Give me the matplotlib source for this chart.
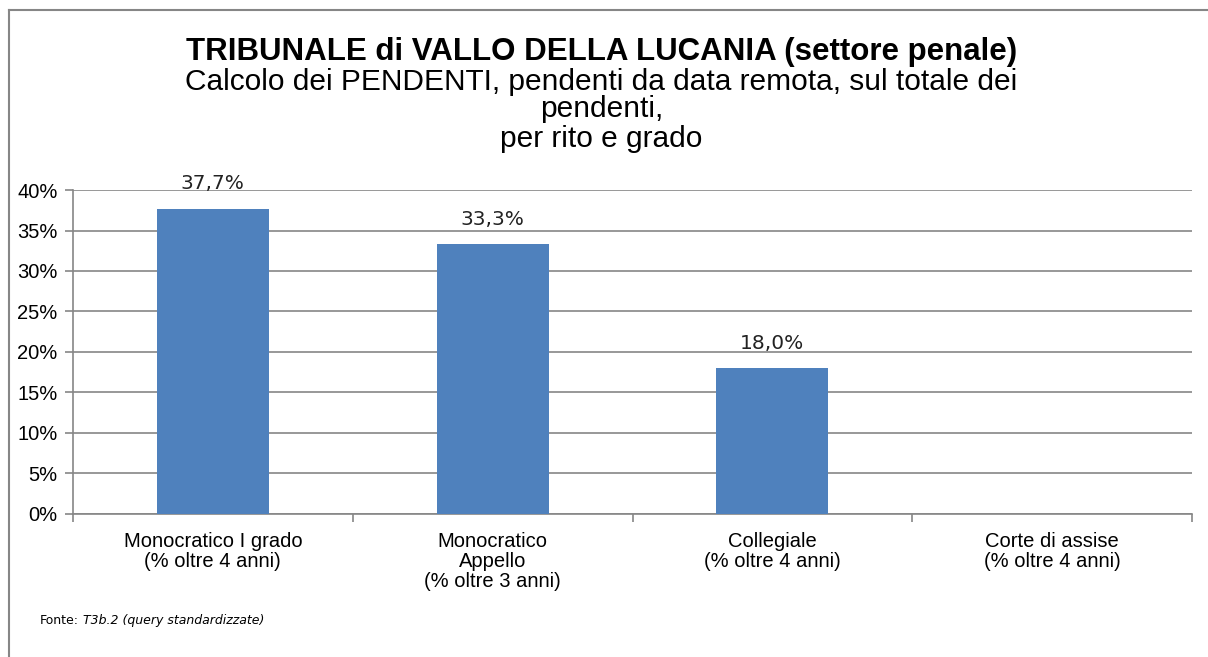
import matplotlib.pyplot as plt
from matplotlib.lines import Line2D
from matplotlib.ticker import FuncFormatter, FixedLocator

# data
categorie = ["Monocratico I grado\n(% oltre 4 anni)",
             "Monocratico\nAppello\n(% oltre 3 anni)",
             "Collegiale\n(% oltre 4 anni)",
             "Corte di assise\n(% oltre 4 anni)"]
valori = [0.377, 0.333, 0.180, None]
etichette = ["37,7%", "33,3%", "18,0%", ""]

fig = plt.figure(figsize=(12.08, 6.57), dpi=100)
ax = fig.add_axes([0.0604, 0.2177, 0.9264, 0.4931])

x = list(range(len(categorie)))
vals = [v if v is not None else 0 for v in valori]
bars = ax.bar(x, vals, width=0.4, color="#4f81bd", zorder=3)

for b, lab in zip(bars, etichette):
    if lab:
        ax.annotate(lab, (b.get_x() + b.get_width() / 2, b.get_height()),
                    xytext=(0, 18), textcoords="offset points",
                    ha="center", va="center", fontsize=14.5,
                    family="DejaVu Sans", color="#222222")

ax.set_xlim(-0.5, 3.5)
ax.set_ylim(0, 0.40)
ax.set_yticks([i * 0.05 for i in range(9)])
ax.yaxis.set_major_formatter(FuncFormatter(lambda v, p: "%d%%" % round(v * 100)))
ax.grid(axis="y", color="#868686", lw=1.2, zorder=0)

ax.set_xticks(x)
ax.set_xticklabels(categorie, fontsize=14.5, family="Liberation Sans",
                   linespacing=1.05)
ax.xaxis.set_minor_locator(FixedLocator([-0.5, 0.5, 1.5, 2.5, 3.5]))
ax.tick_params(axis="x", which="major", length=0, pad=13)
ax.tick_params(axis="x", which="minor", length=6, color="#868686", width=1.2)
ax.tick_params(axis="y", length=6, color="#868686", width=1.2, labelsize=14.5,
               pad=5)
for t in ax.get_yticklabels():
    t.set_family("Liberation Sans")

for s in ["top", "right"]:
    ax.spines[s].set_visible(False)
for s in ["left", "bottom"]:
    ax.spines[s].set_color("#868686")
    ax.spines[s].set_linewidth(1.2)

# title
fig.text(0.498, 0.9087, "TRIBUNALE di VALLO DELLA LUCANIA (settore penale)",
         ha="center", va="baseline", fontsize=22.5, fontweight="bold",
         family="Liberation Sans")
fig.text(0.498, 0.863, "Calcolo dei PENDENTI, pendenti da data remota, sul totale dei",
         ha="center", va="baseline", fontsize=21.5, family="Liberation Sans")
fig.text(0.498, 0.822, "pendenti,", ha="center", va="baseline", fontsize=21.5,
         family="Liberation Sans")
fig.text(0.498, 0.7763, "per rito e grado", ha="center", va="baseline",
         fontsize=21.5, family="Liberation Sans")

# source
fonte = fig.text(0.033, 0.056, "Fonte:", fontsize=9, family="DejaVu Sans",
                 va="center")
ax.annotate("T3b.2 (query standardizzate)", xy=(1, 0.5), xycoords=fonte,
            xytext=(3, 0), textcoords="offset points", fontsize=9,
            family="DejaVu Sans", style="italic", va="center",
            annotation_clip=False)

# border
fig.add_artist(Line2D([0.0075, 0.0075], [0, 0.985], transform=fig.transFigure,
                      color="#868686", lw=1.5))
fig.add_artist(Line2D([0.0075, 1], [0.985, 0.985], transform=fig.transFigure,
                      color="#868686", lw=1.5))

fig.savefig("out.png", dpi=100)
